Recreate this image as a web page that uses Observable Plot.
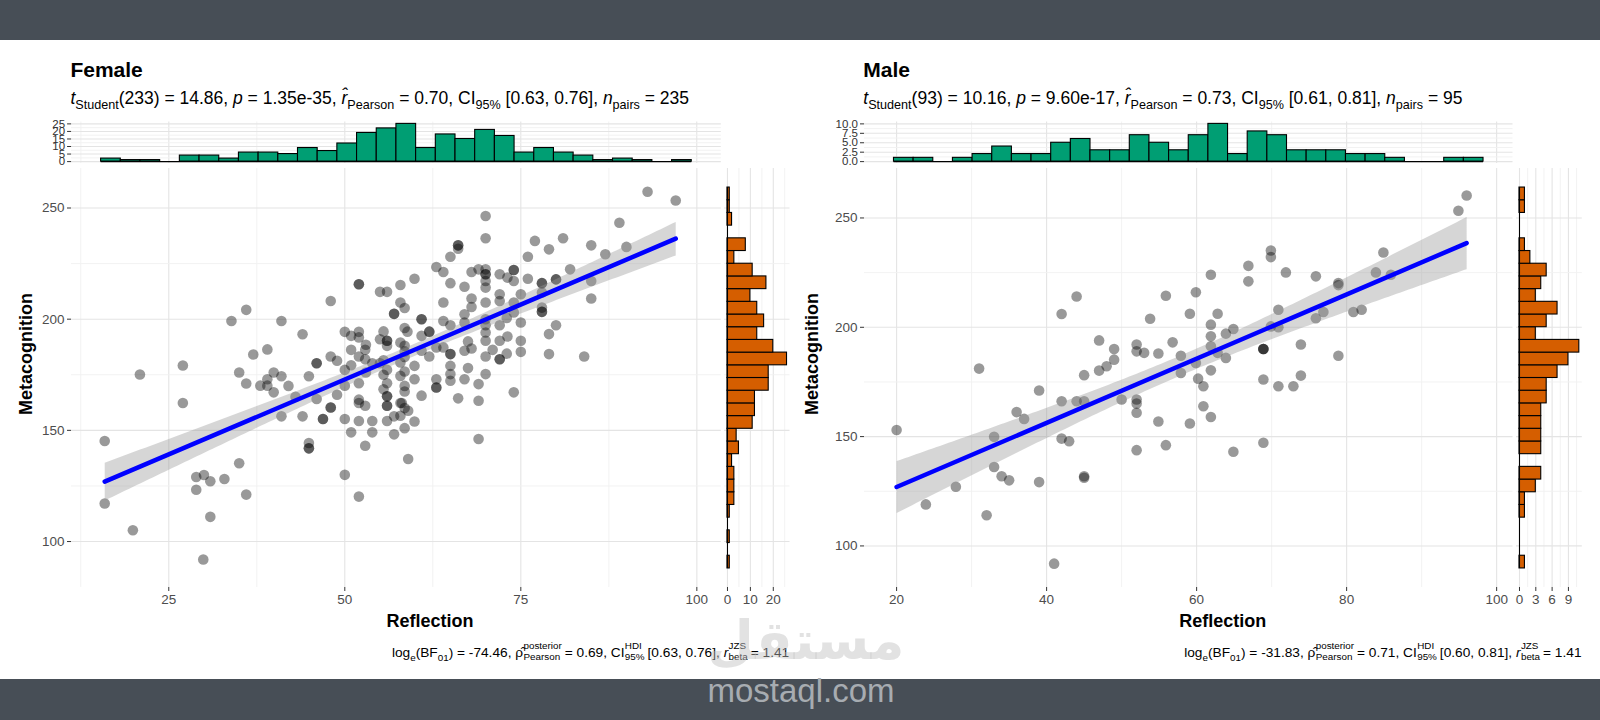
<!DOCTYPE html>
<html>
<head>
<meta charset="utf-8">
<script src="https://cdn.jsdelivr.net/npm/d3@7"></script>
<script src="https://cdn.jsdelivr.net/npm/@observablehq/plot@0.6"></script>
<style>
  html, body { margin: 0; padding: 0; background: #fff; }
  #stage { position: relative; width: 1600px; height: 720px; overflow: hidden; background: #fff;
           font-family: "Liberation Sans", Arial, Helvetica, sans-serif; color: #000; }
  .band { position: absolute; left: 0; width: 1600px; background: #474e56; }
  .txt { position: absolute; white-space: nowrap; line-height: 1.2; }
  .txt sub { font-size: 0.72em; vertical-align: -0.38em; line-height: 0; }
  .stk { display: inline-flex; flex-direction: column; font-size: 0.72em; line-height: 1.15;
         vertical-align: 0.86em; margin: 0 0.3em 0 0.04em; }
  .it { font-style: italic; }
</style>
</head>
<body>
<div id="stage">
  <div class="band" style="top:0;height:40px"></div>
  <div class="band" style="top:679px;height:41px"></div>
</div>
<script>
// ---------------------------------------------------------------------------
// Data: [Reflection, Metacognition] per participant
// ---------------------------------------------------------------------------
const femaleScores = [
  [15.9,145.2],[15.9,117.1],[20.9,175.1],[19.9,105.1],[27.0,179.2],[27.0,162.3],[28.9,129.0],[30.0,129.9],[28.9,123.3],[30.9,127.1],
  [32.9,128.1],[30.9,111.1],[29.9,91.9],[35.0,135.2],[36.0,121.1],[33.9,199.2],[36.0,204.2],[35.0,176.0],[36.0,171.1],[37.0,184.1],
  [39.0,186.4],[38.0,170.1],[39.0,173.0],[39.0,170.1],[39.9,176.0],[41.0,174.3],[39.9,167.1],[41.0,199.2],[44.0,193.2],[43.0,165.1],
  [41.0,156.3],[44.0,156.3],[44.9,174.3],[46.0,164.1],[46.0,180.2],[44.9,144.3],[44.9,141.9],[46.9,155.1],[48.0,160.3],[48.0,208.2],
  [48.0,183.2],[48.9,181.3],[48.9,166.0],[50.0,194.3],[50.0,177.2],[50.0,170.1],[50.0,155.1],[50.0,130.0],[50.9,192.5],[50.9,186.2],
  [50.9,179.3],[50.9,149.1],[52.0,215.7],[52.0,194.3],[52.0,191.8],[52.0,183.2],[52.0,171.2],[52.0,163.8],[52.0,162.3],[52.0,154.2],
  [52.0,120.2],[52.9,186.2],[52.9,182.0],[52.9,161.1],[52.9,143.1],[53.9,180.2],[53.9,154.2],[53.9,149.1],[55.0,212.3],[55.0,191.0],
  [55.0,180.2],[56.0,212.3],[56.0,190.3],[56.0,188.0],[56.0,177.2],[56.0,171.2],[56.0,165.3],[56.0,161.1],[56.0,154.2],[57.0,202.4],
  [57.0,156.3],[57.0,148.2],[57.9,215.4],[57.9,207.5],[57.9,189.5],[57.9,180.5],[57.9,174.5],[57.9,162.3],[57.9,156.6],
  [59.0,137.1],[59.9,154.0],[59.9,179.0],[59.9,218.2],[58.9,194.4],[59.0,158.8],[59.9,173.0],[60.9,165.6],[60.9,200.0],[60.9,192.5],
  [62.0,194.4],[62.0,183.2],[60.9,185.8],[58.1,162.3],[63.0,223.5],[64.0,221.2],[65.0,228.1],[66.1,233.2],[66.1,231.7],[65.0,216.2],
  [64.0,207.5],[64.0,199.2],[65.0,197.3],[63.0,187.3],[64.0,187.3],[65.0,184.3],[65.0,179.0],[65.0,175.3],[65.0,172.3],[63.0,173.0],
  [63.0,169.3],[66.1,164.4],[67.0,214.6],[67.0,202.2],[67.0,198.5],[67.0,185.8],[67.0,173.0],[68.0,221.2],[68.0,209.3],[68.0,205.5],
  [68.0,186.8],[69.0,222.4],[69.0,170.8],[69.0,163.3],[69.0,146.1],[70.0,246.4],[70.0,236.4],[70.0,222.4],[70.0,220.2],[70.0,217.2],
  [70.0,214.2],[70.0,207.5],[70.0,200.0],[70.0,197.3],[70.0,194.0],[70.0,190.3],[70.0,183.2],[70.0,175.3],[71.0,186.2],[72.0,220.2],
  [72.0,211.2],[72.0,208.2],[72.0,197.3],[72.0,190.3],[72.0,182.0],[73.1,218.7],[73.1,192.2],[74.0,222.1],[74.0,217.2],[74.0,207.5],
  [74.0,203.0],[74.0,167.1],[75.0,211.2],[75.0,198.5],[75.0,190.3],[75.0,185.3],[76.0,228.1],[76.0,218.2],[77.0,235.2],[78.0,216.2],
  [78.0,212.0],[78.0,205.2],[78.0,203.3],[79.0,231.4],[79.0,193.3],[79.0,184.3],[80.0,217.9],[80.0,197.3],[81.0,236.4],[82.0,222.4],
  [84.0,183.2],[85.0,233.2],[85.0,217.2],[85.0,209.3],[87.0,229.2],[89.0,243.4],[90.0,232.5],[93.0,257.3],[97.0,253.4],
  // tied / overlapping responses
  [46.0,180.2],[46.9,155.1],[48.0,160.3],[57.0,202.4],[52.0,215.7],[56.0,190.3],[56.0,165.3],[56.0,161.1],[44.9,141.9],[60.9,200.0],
  [62.0,194.4],[66.1,233.2],[63.0,169.3],[65.0,184.3],[72.0,182.0],[74.0,222.1],[70.0,220.2],[78.0,216.2],[78.0,203.3],[80.0,217.9],
  [58.5,170.0],[58.5,176.5],[58.5,183.0],[58.5,188.0],[58.5,196.0],[58.5,167.5],[58.5,160.0],[58.5,151.0],[58.5,205.0],[58.5,185.5],
  [55.5,181.5],[55.5,168.5],[55.5,175.0],[55.5,194.5],[67.5,190.0],[67.5,178.0],[73.0,200.5],[73.0,184.5],[53.0,176.0],[53.0,188.5],
  [42.0,170.0]
];

const maleScores = [
  [20.0,153.0],[23.9,119.0],[27.9,127.1],[31.0,181.1],[32.0,114.0],[33.0,149.9],[33.0,136.1],[34.0,131.9],[35.0,130.0],[36.0,161.2],
  [37.0,158.1],[39.0,171.1],[39.0,129.2],[41.0,91.9],[42.0,206.1],[42.0,166.2],[42.0,149.1],[43.0,147.9],[44.0,214.1],[44.0,166.2],
  [45.0,178.1],[45.0,166.2],[45.0,131.9],[45.0,131.2],[47.0,194.0],[47.0,180.2],[48.0,182.2],[49.0,190.1],[49.0,185.2],[50.0,167.0],
  [52.0,192.1],[52.0,189.0],[52.0,167.0],[52.0,165.1],[52.0,160.9],[52.0,143.8],[53.0,188.3],[53.8,203.9],
  [54.9,188.0],[54.9,156.9],[55.9,214.4],[55.9,146.1],[56.8,193.1],[57.9,187.0],[57.9,179.1],[59.1,206.2],[59.1,156.0],[59.9,216.0],
  [59.9,183.7],[60.9,173.0],[60.9,163.9],[61.9,224.0],[61.9,201.2],[61.9,195.9],[61.9,191.3],[61.9,180.3],[61.9,159.0],[62.8,206.2],
  [62.8,188.3],[63.9,197.1],[63.9,186.0],[64.9,199.2],[64.9,143.1],[66.9,228.1],[66.9,221.0],[68.9,190.1],[68.9,190.1],[68.9,190.1],
  [68.9,176.1],[68.9,147.2],[69.9,235.1],[69.9,232.1],[69.9,200.4],[70.9,208.0],[70.9,200.0],[70.9,173.0],[71.9,225.1],[72.9,173.0],
  [73.9,192.1],[73.9,177.9],[75.9,223.3],[75.9,204.1],[76.9,207.0],[78.9,220.2],[78.9,219.3],[78.9,187.0],[80.9,207.0],[82.0,208.0],
  [83.9,225.1],[84.9,234.2],[85.9,224.0],[94.9,253.3],[96.0,260.3],[60.2,176.5]
];

// Marginal histograms: 30 bins each (first bin edge, bin width, counts in ascending order)
const femaleReflectionBins = {start: 15.38, width: 2.797};
const femaleReflectionCounts = [2,1,1,0,4,4,2,6,6,5,9,7,12,19,22,25,9,18,15,21,17,6,9,6,4,1,2,1,0,1];
const femaleMetacognitionBins = {start: 87.9, width: 5.71};
const femaleMetacognitionCounts = [1,0,1,0,1,3,3,3,2,5,4,11,12,12,18,18,26,20,13,16,13,10,17,11,3,8,0,2,1,1];
const maleReflectionBins = {start: 19.65, width: 2.62};
const maleReflectionCounts = [1,1,0,1,2,4,2,2,5,6,3,3,7,5,3,7,10,2,8,7,3,3,3,2,2,1,0,0,1,1];
const maleMetacognitionBins = {start: 89.7, width: 5.807};
const maleMetacognitionCounts = [1,0,0,0,1,1,3,4,0,4,4,4,4,5,5,7,9,11,3,5,7,3,4,5,2,1,0,0,1,1];

// Tick values
const femaleReflectionTicks = [25, 50, 75, 100];
const maleReflectionTicks = [20, 40, 60, 80, 100];
const metacognitionTicks = [100, 150, 200, 250];
const femaleTopTicks = [0, 5, 10, 15, 20, 25];
const maleTopTicks = [0, 2.5, 5, 7.5, 10];
const femaleSideTicks = [0, 10, 20];
const maleSideTicks = [0, 3, 6, 9];

// ---------------------------------------------------------------------------
// Helpers
// ---------------------------------------------------------------------------
const stage = document.getElementById("stage");
const FONT = '"Liberation Sans", Arial, Helvetica, sans-serif';
const GRID_MAJOR = "#e4e4e4", GRID_MINOR = "#f0f0f0";
const TICK = "#333333", LABEL = "#4d4d4d";

const expand = ([a, b], f = 0.05) => [a - (b - a) * f, b + (b - a) * f];
const binRows = (counts, {start, width}) =>
  counts.map((n, i) => ({lo: start + i * width, hi: start + (i + 1) * width, n}));
const binExtent = (counts, {start, width}) => [start, start + counts.length * width];

function minorTicks(major, [lo, hi]) {
  const step = major[1] - major[0];
  const out = [];
  let v = major[0] - step / 2;
  while (v - step >= lo) v -= step;
  for (; v <= hi + 1e-9; v += step) if (v >= lo) out.push(v);
  return out;
}

// Place a Plot chart so its plotting area lands on `box` (page pixels) within the SVG `frame`.
function place(box, frame, options) {
  const chart = Plot.plot({
    width: frame.w, height: frame.h,
    marginLeft: box.l - frame.l, marginRight: frame.l + frame.w - box.r,
    marginTop: box.t - frame.t, marginBottom: frame.t + frame.h - box.b,
    style: {fontFamily: FONT, fontSize: "13.5px", background: "transparent", overflow: "visible"},
    ...options
  });
  Object.assign(chart.style, {position: "absolute", left: frame.l + "px", top: frame.t + "px", maxWidth: "none"});
  stage.appendChild(chart);
  return chart;
}

// HTML text positioned by its baseline
function addText(html, {x, baseline, size, weight = "normal", align = "left"}) {
  const d = document.createElement("div");
  d.className = "txt";
  d.innerHTML = html;
  d.style.fontSize = size + "px";
  d.style.fontWeight = weight;
  d.style.top = "0px";
  if (align === "left") d.style.left = x + "px";
  else if (align === "right") d.style.right = (1600 - x) + "px";
  else { d.style.left = x + "px"; d.style.transform = "translateX(-50%)"; }
  const mark = document.createElement("span");
  Object.assign(mark.style, {display: "inline-block", width: "0px", height: "0px", verticalAlign: "baseline"});
  d.appendChild(mark);
  stage.appendChild(d);
  const cur = mark.getBoundingClientRect().top - stage.getBoundingClientRect().top;
  d.style.top = (baseline - cur) + "px";
  return d;
}

function addVerticalTitle(text, cx, cy, size) {
  const d = document.createElement("div");
  d.className = "txt";
  d.textContent = text;
  Object.assign(d.style, {left: cx + "px", top: cy + "px", fontSize: size + "px", fontWeight: "bold",
    transform: "translate(-50%, -50%) rotate(-90deg)"});
  stage.appendChild(d);
}

const gridMarks = (dim, major, domain) => {
  const grid = dim === "x" ? Plot.gridX : Plot.gridY;
  return [
    grid(minorTicks(major, domain), {stroke: GRID_MINOR, strokeOpacity: 1, strokeWidth: 0.9}),
    grid(major.filter(v => v >= domain[0] && v <= domain[1]), {stroke: GRID_MAJOR, strokeOpacity: 1, strokeWidth: 1.1})
  ];
};

// ---------------------------------------------------------------------------
// One facet: scatter + regression, top (x) histogram, right (y) histogram
// ---------------------------------------------------------------------------
function facet(cfg) {
  const xDomain = expand(binExtent(cfg.xCounts, cfg.xBins));
  const yDomain = expand(binExtent(cfg.yCounts, cfg.yBins));
  const topDomain = expand([0, d3.max(cfg.xCounts)]);
  const sideDomain = expand([0, d3.max(cfg.yCounts)]);
  const {L, R, SL, SR} = cfg;          // panel edges (page px)
  const T = 168, B = 587, TT = 121.5, TB = 163;

  // scatter panel
  place({l: L, r: R, t: T, b: B}, {l: L - 75, t: 150, w: R - L + 85, h: 470}, {
    x: {domain: xDomain}, y: {domain: yDomain},
    marks: [
      ...gridMarks("x", cfg.xTicks, xDomain),
      ...gridMarks("y", metacognitionTicks, yDomain),
      Plot.dot(cfg.scores, {x: d => d[0], y: d => d[1], r: 5.3, fill: "black", fillOpacity: 0.4}),
      Plot.linearRegressionY(cfg.scores, {x: d => d[0], y: d => d[1], stroke: "blue", strokeWidth: 4.5,
        fill: "#999999", fillOpacity: 0.4, ci: 0.95}),
      Plot.axisX(cfg.xTicks, {anchor: "bottom", tickSize: 4, tickPadding: 3, stroke: TICK, fill: LABEL,
        fontSize: 13.5, label: null}),
      Plot.axisY(metacognitionTicks, {anchor: "left", tickSize: 4, tickPadding: 3, stroke: TICK, fill: LABEL,
        fontSize: 13.5, label: null})
    ]
  });

  // top histogram of Reflection
  const xRows = binRows(cfg.xCounts, cfg.xBins);
  place({l: L, r: R, t: TT, b: TB}, {l: L - 75, t: 110, w: R - L + 85, h: 60}, {
    x: {domain: xDomain, axis: null}, y: {domain: topDomain},
    marks: [
      ...gridMarks("x", cfg.xTicks, xDomain),
      ...gridMarks("y", cfg.topTicks, topDomain),
      Plot.rect(xRows.filter(d => d.n > 0), {x1: "lo", x2: "hi", y1: 0, y2: "n", fill: "#009E73", stroke: "black", strokeWidth: 1.1}),
      Plot.ruleY([0], {x1: xRows[0].lo, x2: xRows[xRows.length - 1].hi, stroke: "black", strokeWidth: 1.1}),
      Plot.axisY(cfg.topTicks, {anchor: "left", tickSize: 4, tickPadding: 2.5, stroke: TICK, fill: "#333",
        fontSize: 11.5, label: null, tickFormat: cfg.topFormat})
    ]
  });

  // right histogram of Metacognition
  const yRows = binRows(cfg.yCounts, cfg.yBins);
  place({l: SL, r: SR, t: T, b: B}, {l: SL - 10, t: 150, w: SR - SL + 20, h: 470}, {
    x: {domain: sideDomain}, y: {domain: yDomain, axis: null},
    marks: [
      ...gridMarks("x", cfg.sideTicks, sideDomain),
      ...gridMarks("y", metacognitionTicks, yDomain),
      Plot.rect(yRows.filter(d => d.n > 0), {y1: "lo", y2: "hi", x1: 0, x2: "n", fill: "#D55E00", stroke: "black", strokeWidth: 1.1}),
      Plot.ruleX([0], {y1: yRows[0].lo, y2: yRows[yRows.length - 1].hi, stroke: "black", strokeWidth: 1.1}),
      Plot.axisX(cfg.sideTicks, {anchor: "bottom", tickSize: 4, tickPadding: 3, stroke: TICK, fill: LABEL,
        fontSize: 13.5, label: null})
    ]
  });

  // titles and statistics
  addText(cfg.title, {x: cfg.titleX, baseline: 76.5, size: 21, weight: "bold"});
  addText(cfg.subtitle, {x: cfg.titleX, baseline: 103.5, size: 17.5});
  addText(cfg.caption, {x: SR, baseline: 657, size: 13.7, align: "right"});
  addText("Reflection", {x: (L + SR) / 2, baseline: 626.5, size: 18, weight: "bold", align: "center"});
  addVerticalTitle("Metacognition", cfg.yTitleX, 354, 18);
}

const stk = (sup, sub) => `<span class="stk"><span>${sup}</span><span>${sub}</span></span>`;
const subtitle = (df, t, p, r, lo, hi, n) =>
  `<span class="it">t</span><sub>Student</sub>(${df}) = ${t}, <span class="it">p</span> = ${p}, ` +
  `<span class="it">r&#770;</span><sub>Pearson</sub> = ${r}, CI<sub>95%</sub> [${lo}, ${hi}], ` +
  `<span class="it">n</span><sub>pairs</sub> = ${n}`;
const caption = (bf, rho, lo, hi, rb) =>
  `log<sub>e</sub>(BF<sub>01</sub>) = ${bf}, &rho;&#770;${stk("posterior", "Pearson")}= ${rho}, ` +
  `CI${stk("HDI", "95%")}[${lo}, ${hi}], <span class="it">r</span>${stk("JZS", "beta")}= ${rb}`;

facet({
  scores: femaleScores,
  xBins: femaleReflectionBins, xCounts: femaleReflectionCounts,
  yBins: femaleMetacognitionBins, yCounts: femaleMetacognitionCounts,
  xTicks: femaleReflectionTicks, topTicks: femaleTopTicks, sideTicks: femaleSideTicks,
  topFormat: d3.format("d"),
  L: 71.0, R: 720.9, SL: 723.7, SR: 789.2,
  titleX: 70.4, yTitleX: 26.5,
  title: "Female",
  subtitle: subtitle(233, "14.86", "1.35e-35", "0.70", "0.63", "0.76", 235),
  caption: caption("-74.46", "0.69", "0.63", "0.76", "1.41")
});

facet({
  scores: maleScores,
  xBins: maleReflectionBins, xCounts: maleReflectionCounts,
  yBins: maleMetacognitionBins, yCounts: maleMetacognitionCounts,
  xTicks: maleReflectionTicks, topTicks: maleTopTicks, sideTicks: maleSideTicks,
  topFormat: d3.format(".1f"),
  L: 863.9, R: 1512.4, SL: 1515.7, SR: 1581.5,
  titleX: 863.3, yTitleX: 813,
  title: "Male",
  subtitle: subtitle(93, "10.16", "9.60e-17", "0.73", "0.61", "0.81", 95),
  caption: caption("-31.83", "0.71", "0.60", "0.81", "1.41")
});

// site marks
const wm = document.createElement("div");
wm.className = "txt";
wm.textContent = "مستقل";
Object.assign(wm.style, {left: "707px", top: "614px", fontSize: "54px", fontWeight: "bold",
  fontFamily: '"DejaVu Sans", sans-serif', color: "rgba(190,190,190,0.45)", lineHeight: "1"});
stage.appendChild(wm);
addText("mostaql.com", {x: 801, baseline: 702, size: 33, align: "center"}).style.color = "#a7acb1";
</script>
</body>
</html>
